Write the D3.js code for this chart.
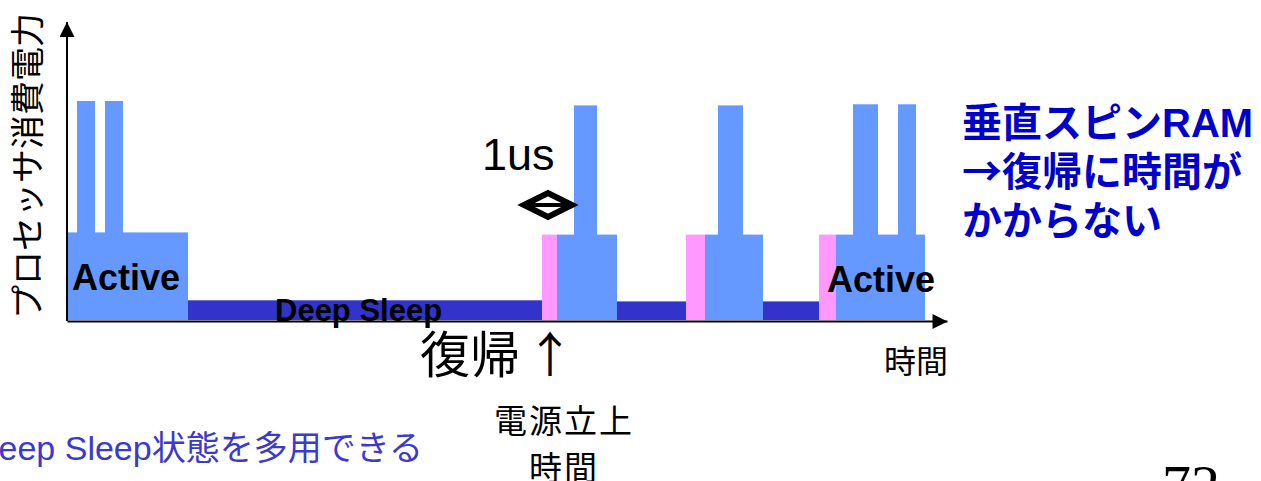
<!DOCTYPE html>
<html>
<head>
<meta charset="utf-8">
<script src="https://cdn.jsdelivr.net/npm/d3@7"></script>
<style>
  html, body { margin: 0; padding: 0; background: #fff; overflow: hidden; }
  svg { display: block; }
  text { font-family: "Liberation Sans", Arial, "Noto Sans CJK JP", sans-serif; }
</style>
</head>
<body>
<svg id="chart" width="1261" height="481"></svg>
<script>
// Power-state timeline of a processor (time in arbitrary units, power in % of peak)
const states    = ["active", "sleep", "wake", "active", "sleep", "wake", "active", "sleep", "wake", "active"];
const starts    = [0,   121, 475, 490, 550, 619, 638, 696, 752, 769];
const ends      = [121, 475, 490, 550, 619, 638, 696, 752, 769, 858];
const levels    = [40,  9,   39,  39,  8.5, 39,  39,  8.5, 39,  39];

// Short bursts of peak power inside the active phases
const spikeStarts = [10, 38, 507, 651, 786, 831];
const spikeEnds   = [28, 56, 530, 676, 811, 849];
const spikeLevels = [100, 100, 98, 98, 98.5, 98.5];

const stateColors = { active: "#6699ff", sleep: "#3333cc", wake: "#ff99ff" };

const svg = d3.select("#chart");
const x = d3.scaleLinear().domain([0, 880]).range([67, 947]);
const y = d3.scaleLinear().domain([0, 100]).range([320, 101]);

const segs = states.map((s, i) => ({ state: s, t0: starts[i], t1: ends[i], p: levels[i] }));
const spikes = spikeStarts.map((t, i) => ({ t0: t, t1: spikeEnds[i], p: spikeLevels[i] }));

// arrow heads for the axes
const defs = svg.append("defs");
defs.append("marker").attr("id", "head")
  .attr("viewBox", "0 0 10 10").attr("refX", 10).attr("refY", 5)
  .attr("markerUnits", "userSpaceOnUse")
  .attr("markerWidth", 17).attr("markerHeight", 15).attr("orient", "auto")
  .append("path").attr("d", "M0,0 L10,5 L0,10 Z").attr("fill", "#000");

// spikes behind the blocks
svg.append("g").selectAll("rect").data(spikes).join("rect")
  .attr("x", d => x(d.t0)).attr("width", d => x(d.t1) - x(d.t0))
  .attr("y", d => y(d.p)).attr("height", d => y(0) - y(d.p))
  .attr("fill", stateColors.active);

svg.append("g").selectAll("rect").data(segs).join("rect")
  .attr("x", d => x(d.t0)).attr("width", d => x(d.t1) - x(d.t0))
  .attr("y", d => y(d.p)).attr("height", d => y(0) - y(d.p))
  .attr("fill", d => stateColors[d.state]);

// axes
const xAxis = svg.append("g").attr("transform", `translate(0,${y(0) + 1})`)
  .call(d3.axisBottom(x).ticks(0).tickSizeOuter(0));
xAxis.select(".domain").attr("stroke", "#000").attr("stroke-width", 2)
  .attr("marker-end", "url(#head)");

svg.append("line")
  .attr("x1", x(0)).attr("x2", x(0))
  .attr("y1", y(0) + 1).attr("y2", 22)
  .attr("stroke", "#000").attr("stroke-width", 2)
  .attr("marker-end", "url(#head)");

// axis titles
svg.append("text")
  .attr("transform", `translate(40,166) rotate(-90)`)
  .attr("text-anchor", "middle")
  .style("font-family", "'Noto Sans CJK JP', sans-serif")
  .style("font-size", "34px").attr("fill", "#000")
  .text("プロセッサ消費電力");

svg.append("text").attr("x", 916).attr("y", 373).attr("text-anchor", "middle")
  .style("font-family", "'Noto Sans CJK JP', sans-serif")
  .style("font-size", "32px").attr("fill", "#000").text("時間");

// state labels
svg.append("text").attr("x", 72).attr("y", 290)
  .style("font-weight", "bold").style("font-size", "36px").attr("fill", "#000").text("Active");
svg.append("text").attr("x", 827).attr("y", 292)
  .style("font-weight", "bold").style("font-size", "36px").attr("fill", "#000").text("Active");
svg.append("text").attr("x", 275).attr("y", 321)
  .style("font-weight", "bold").style("font-size", "31px").attr("fill", "#000").text("Deep Sleep");

// wake-up latency marker
svg.append("text").attr("x", 482).attr("y", 170)
  .style("font-size", "45px").attr("fill", "#000").text("1us");
const wakeStart = x(starts[2]) - 18, wakeEnd = x(spikeStarts[2]) - 2;
const my = 205;
svg.append("path")
  .attr("d", `M${wakeStart},${my} L${(wakeStart + wakeEnd) / 2},${my - 12} L${wakeEnd},${my} L${(wakeStart + wakeEnd) / 2},${my + 12} Z`)
  .attr("fill", "#fff").attr("stroke", "#000").attr("stroke-width", 6).attr("stroke-linejoin", "miter");
svg.append("line").attr("x1", wakeStart + 4).attr("x2", wakeEnd - 4).attr("y1", my).attr("y2", my)
  .attr("stroke", "#000").attr("stroke-width", 4);

svg.append("text").attr("x", 420).attr("y", 373)
  .style("font-family", "'Noto Sans CJK JP', sans-serif")
  .style("font-size", "50px").attr("fill", "#000").text("復帰");
svg.append("text").attr("x", 550).attr("y", 372).attr("text-anchor", "middle")
  .style("font-family", "'Noto Sans CJK JP', sans-serif")
  .style("font-size", "48px").attr("fill", "#000").text("↑");

svg.append("text").attr("x", 564).attr("y", 433).attr("text-anchor", "middle")
  .style("font-family", "'Noto Sans CJK JP', sans-serif")
  .style("font-size", "33px").style("letter-spacing", "2px").attr("fill", "#000").text("電源立上");
svg.append("text").attr("x", 564).attr("y", 480).attr("text-anchor", "middle")
  .style("font-family", "'Noto Sans CJK JP', sans-serif")
  .style("font-size", "33px").style("letter-spacing", "2px").attr("fill", "#000").text("時間");

// notes
svg.append("text").attr("x", 423).attr("y", 460).attr("text-anchor", "end")
  .style("font-size", "34px").attr("fill", "#3a3acc").text("Deep Sleep状態を多用できる");

const note = ["垂直スピンRAM", "→復帰に時間が", "かからない"];
const noteG = svg.append("g");
note.forEach((line, i) => {
  const t = noteG.append("text").attr("x", 962).attr("y", 137 + i * 49)
    .style("font-weight", "bold").style("font-size", "40px").attr("fill", "#0000cc");
  if (line.startsWith("→")) {
    t.append("tspan").style("font-family", "'Noto Sans CJK JP', sans-serif").text("→");
    t.append("tspan").text(line.slice(1));
  } else {
    t.text(line);
  }
});

svg.append("text").attr("x", 1162).attr("y", 505)
  .style("font-family", "'Liberation Serif', 'Times New Roman', serif")
  .style("font-size", "58px").attr("fill", "#000").text("72");
</script>
</body>
</html>
